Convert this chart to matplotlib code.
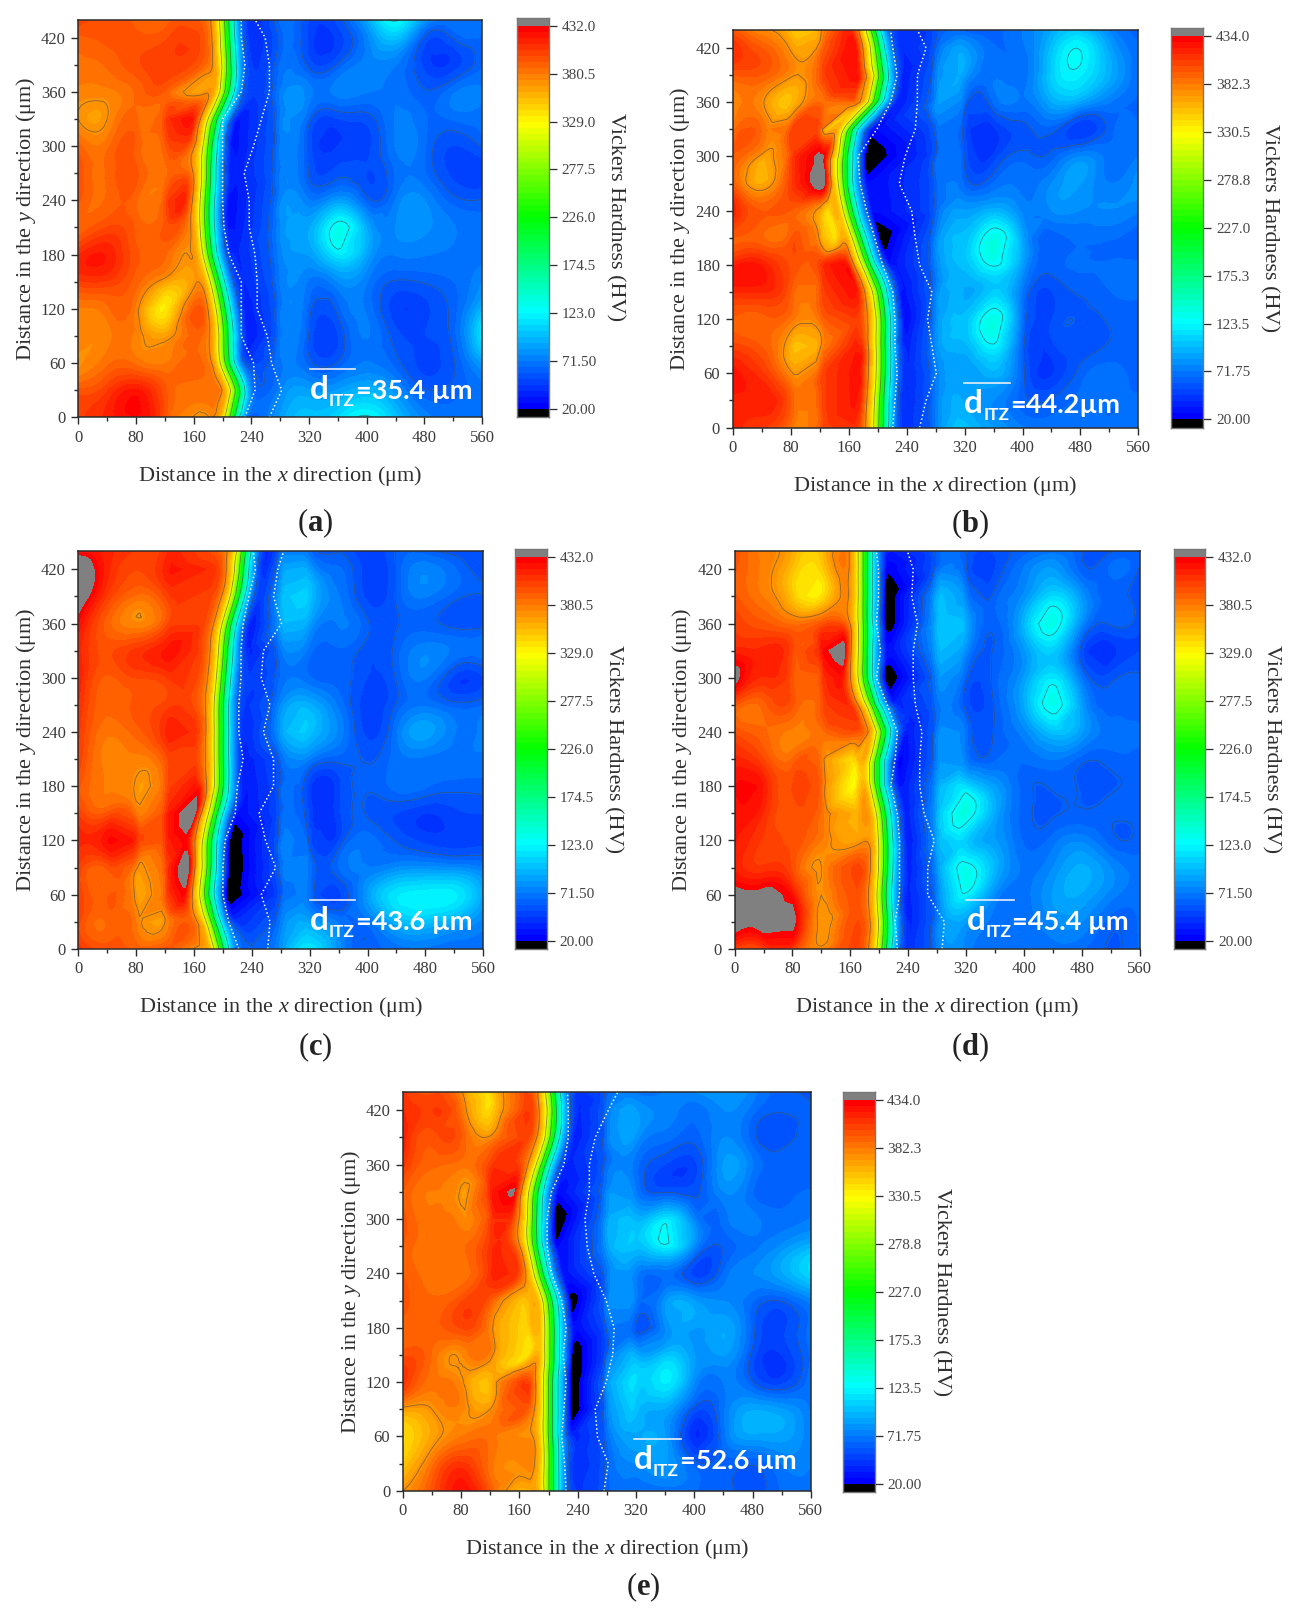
import numpy as np
import matplotlib
matplotlib.use('Agg')
import matplotlib.pyplot as plt
from matplotlib.colors import LinearSegmentedColormap
from matplotlib.ticker import MultipleLocator
from matplotlib.tri import Triangulation, UniformTriRefiner, LinearTriInterpolator

plt.rcParams['font.family'] = ['Liberation Serif', 'DejaVu Serif']
plt.rcParams['mathtext.fontset'] = 'custom'
plt.rcParams['mathtext.rm'] = 'Liberation Serif'
plt.rcParams['mathtext.it'] = 'Liberation Serif:italic'
plt.rcParams['mathtext.bf'] = 'Liberation Serif:bold'

# MEASURED ROWS (um) AND COLUMNS (um)
y_rows = [0, 30, 60, 90, 120, 150, 180, 210, 240, 270, 300, 330, 360, 390, 420, 440]
left_cols = [0, 40, 80, 120]
right_cols = [280, 320, 360, 400, 440, 480, 520, 560]

# PROFILE ACROSS THE INTERFACE, RELATIVE TO THE INTERFACE POSITION
itz_offsets = [-16, -11, 0, 11, 20]
itz_values = [355, 329, 226, 123, 72]
plateau_offset = -30
trough_offset = 30

labels_432 = ['20.00', '71.50', '123.0', '174.5', '226.0', '277.5', '329.0', '380.5', '432.0']
labels_434 = ['20.00', '71.75', '123.5', '175.3', '227.0', '278.8', '330.5', '382.3', '434.0']

# PANEL A
iface_a = [212, 220, 206, 204, 200, 192, 182, 178, 178, 180, 182, 189, 205, 208, 206, 205]
dots1_a = [231, 245, 243, 226, 226, 226, 209, 202, 200, 200, 200, 200, 226, 231, 226, 226]
dots2_a = [265, 282, 268, 262, 248, 248, 245, 237, 237, 230, 243, 254, 265, 265, 259, 245]
trough_a = [60, 60, 52, 35, 38, 42, 40, 32, 30, 36, 32, 35, 50, 48, 45, 45]
left_a = [
    [405, 415, 425, 395, 372],
    [395, 405, 420, 395, 385],
    [372, 385, 385, 380, 385],
    [380, 378, 378, 365, 385],
    [380, 385, 378, 335, 395],
    [405, 405, 390, 365, 370],
    [412, 418, 395, 388, 372],
    [388, 400, 392, 395, 385],
    [395, 388, 388, 395, 412],
    [398, 388, 395, 385, 390],
    [390, 385, 392, 392, 395],
    [372, 372, 388, 400, 418],
    [378, 378, 388, 392, 368],
    [385, 388, 398, 405, 385],
    [392, 395, 395, 398, 392],
    [405, 395, 392, 390, 385],
]
right_a = [
    [85, 100, 110, 125, 100, 75, 66, 68],
    [75, 85, 85, 95, 80, 60, 62, 70],
    [70, 62, 60, 72, 62, 50, 58, 85],
    [70, 58, 52, 72, 55, 52, 62, 115],
    [70, 62, 62, 70, 48, 50, 62, 95],
    [72, 70, 78, 72, 58, 60, 65, 78],
    [75, 85, 115, 88, 72, 72, 70, 68],
    [78, 90, 130, 90, 78, 80, 72, 66],
    [76, 72, 85, 62, 72, 78, 62, 60],
    [72, 58, 56, 52, 66, 66, 50, 46],
    [72, 56, 46, 50, 72, 66, 52, 60],
    [72, 62, 52, 55, 72, 66, 66, 68],
    [72, 74, 74, 72, 70, 60, 70, 72],
    [66, 56, 60, 75, 72, 50, 48, 64],
    [62, 50, 48, 75, 100, 58, 60, 64],
    [66, 52, 55, 90, 125, 85, 70, 68],
]

# PANEL B
iface_b = [204, 205, 207, 207, 207, 202, 187, 174, 162, 155, 155, 162, 196, 204, 199, 193]
dots1_b = [221, 224, 227, 224, 224, 221, 207, 196, 185, 176, 173, 199, 218, 227, 221, 218]
dots2_b = [258, 267, 281, 275, 269, 275, 258, 252, 247, 230, 238, 252, 255, 255, 267, 255]
trough_b = [45, 42, 42, 38, 28, 32, 32, 12, 28, 28, 8, 28, 35, 38, 45, 50]
left_b = [
    [420, 408, 385, 395, 405],
    [418, 420, 395, 395, 418],
    [425, 410, 375, 395, 420],
    [405, 395, 360, 368, 415],
    [395, 392, 385, 385, 400],
    [415, 415, 395, 395, 420],
    [418, 420, 400, 405, 425],
    [395, 390, 395, 370, 345],
    [420, 395, 395, 365, 345],
    [395, 362, 405, 450, 445],
    [395, 368, 400, 438, 435],
    [385, 388, 398, 395, 350],
    [378, 375, 355, 388, 388],
    [395, 395, 375, 395, 420],
    [415, 395, 370, 380, 425],
    [395, 375, 355, 365, 415],
]
right_b = [
    [72, 100, 85, 72, 66, 66, 66, 68],
    [72, 90, 78, 62, 60, 66, 66, 66],
    [72, 85, 95, 62, 45, 62, 68, 62],
    [78, 95, 120, 62, 50, 56, 60, 60],
    [76, 100, 135, 68, 52, 58, 60, 62],
    [74, 90, 105, 70, 52, 60, 65, 66],
    [74, 100, 125, 85, 62, 66, 66, 66],
    [74, 100, 135, 88, 62, 66, 66, 62],
    [62, 85, 95, 76, 78, 78, 78, 72],
    [62, 64, 66, 70, 78, 85, 72, 82],
    [60, 58, 48, 62, 62, 78, 68, 72],
    [62, 55, 44, 56, 62, 46, 62, 66],
    [78, 66, 66, 70, 90, 88, 72, 64],
    [72, 85, 70, 68, 105, 118, 92, 64],
    [62, 85, 66, 70, 100, 122, 88, 66],
    [56, 62, 62, 72, 90, 100, 75, 62],
]

# PANEL C
iface_c = [197, 186, 177, 180, 181, 189, 197, 197, 197, 197, 200, 203, 208, 219, 225, 228]
dots1_c = [222, 208, 200, 200, 203, 217, 220, 228, 222, 222, 225, 225, 228, 236, 245, 242]
dots2_c = [262, 265, 253, 273, 259, 250, 270, 270, 256, 265, 253, 256, 281, 270, 276, 284]
trough_c = [65, 45, 10, 8, 10, 30, 35, 38, 42, 48, 50, 40, 35, 48, 42, 40]
left_c = [
    [410, 398, 390, 395, 365],
    [402, 388, 380, 372, 388],
    [405, 392, 368, 392, 425],
    [405, 395, 375, 395, 450],
    [415, 425, 410, 405, 425],
    [405, 395, 382, 405, 450],
    [395, 380, 370, 392, 415],
    [405, 378, 378, 395, 395],
    [408, 382, 390, 412, 400],
    [412, 388, 395, 402, 390],
    [418, 392, 400, 405, 392],
    [415, 398, 408, 420, 395],
    [425, 390, 375, 395, 395],
    [450, 405, 385, 400, 395],
    [460, 415, 400, 415, 400],
    [420, 415, 405, 410, 385],
]
right_c = [
    [80, 115, 80, 62, 68, 70, 68, 70],
    [72, 88, 70, 68, 95, 100, 90, 75],
    [58, 66, 50, 85, 115, 120, 118, 88],
    [66, 68, 65, 72, 78, 80, 78, 72],
    [68, 56, 52, 68, 58, 50, 48, 50],
    [62, 50, 50, 58, 52, 46, 50, 52],
    [62, 48, 50, 60, 68, 66, 62, 62],
    [65, 72, 62, 58, 68, 70, 70, 70],
    [85, 100, 76, 50, 70, 88, 72, 74],
    [78, 92, 70, 48, 60, 70, 62, 65],
    [66, 66, 62, 52, 60, 72, 50, 52],
    [70, 68, 64, 55, 62, 76, 70, 70],
    [88, 85, 72, 60, 58, 62, 56, 56],
    [92, 100, 72, 50, 60, 72, 62, 58],
    [80, 85, 66, 48, 60, 76, 66, 54],
    [66, 66, 58, 46, 60, 62, 56, 54],
]

# PANEL D
iface_d = [206, 208, 206, 208, 208, 205, 197, 197, 205, 191, 180, 180, 180, 180, 180, 180]
dots1_d = [225, 222, 228, 228, 228, 225, 216, 222, 225, 211, 196, 202, 196, 199, 199, 196]
dots2_d = [287, 290, 267, 267, 276, 262, 256, 256, 259, 250, 247, 247, 253, 245, 247, 239]
trough_d = [45, 40, 40, 38, 35, 38, 32, 25, 35, 40, 8, 28, 8, 8, 22, 35]
left_d = [
    [405, 405, 405, 375, 398],
    [445, 445, 440, 368, 395],
    [440, 440, 422, 372, 392],
    [418, 408, 398, 372, 398],
    [420, 405, 398, 380, 370],
    [420, 412, 395, 385, 365],
    [425, 418, 400, 385, 330],
    [415, 400, 388, 380, 345],
    [398, 388, 378, 385, 392],
    [395, 390, 395, 395, 405],
    [440, 412, 395, 400, 418],
    [415, 415, 400, 420, 445],
    [405, 395, 385, 395, 395],
    [395, 380, 350, 338, 375],
    [395, 378, 352, 345, 380],
    [398, 378, 360, 352, 380],
]
right_d = [
    [72, 75, 68, 66, 68, 66, 58, 66],
    [72, 85, 70, 68, 78, 78, 62, 66],
    [72, 120, 78, 68, 85, 90, 75, 68],
    [80, 130, 95, 70, 78, 92, 78, 68],
    [88, 105, 85, 64, 68, 76, 62, 62],
    [92, 135, 90, 62, 58, 60, 60, 62],
    [85, 110, 85, 62, 60, 58, 58, 62],
    [74, 72, 64, 66, 72, 62, 62, 62],
    [72, 68, 60, 75, 100, 85, 68, 66],
    [68, 56, 60, 90, 130, 85, 62, 62],
    [76, 62, 62, 85, 115, 70, 56, 60],
    [90, 78, 60, 82, 105, 55, 42, 52],
    [95, 90, 62, 95, 132, 78, 60, 54],
    [92, 75, 62, 80, 110, 82, 62, 55],
    [66, 60, 52, 72, 85, 62, 66, 58],
    [62, 60, 54, 62, 68, 60, 58, 60],
]

# PANEL E
iface_e = [203, 203, 202, 202, 202, 204, 204, 201, 189, 181, 180, 182, 192, 204, 207, 205]
dots1_e = [224, 222, 218, 221, 224, 220, 224, 218, 204, 198, 198, 204, 221, 227, 227, 226]
dots2_e = [276, 282, 267, 264, 279, 288, 290, 279, 262, 253, 250, 256, 256, 264, 282, 295]
trough_e = [50, 45, 40, 8, 8, 8, 28, 12, 32, 25, 8, 30, 40, 38, 42, 48]
left_e = [
    [372, 398, 425, 395, 360],
    [350, 385, 410, 385, 378],
    [342, 365, 382, 385, 375],
    [368, 372, 378, 372, 392],
    [412, 385, 375, 358, 405],
    [400, 388, 375, 378, 345],
    [392, 392, 402, 378, 350],
    [398, 390, 400, 395, 355],
    [395, 385, 385, 412, 402],
    [395, 385, 388, 410, 400],
    [398, 385, 378, 405, 405],
    [395, 382, 370, 415, 437],
    [410, 390, 385, 405, 400],
    [420, 398, 395, 375, 400],
    [415, 408, 385, 345, 405],
    [410, 400, 375, 345, 400],
]
right_e = [
    [62, 66, 68, 66, 62, 56, 66, 68],
    [62, 78, 85, 62, 62, 60, 72, 72],
    [66, 90, 85, 40, 68, 88, 88, 72],
    [72, 100, 90, 56, 70, 90, 85, 70],
    [78, 110, 118, 78, 72, 60, 50, 70],
    [62, 92, 100, 85, 85, 56, 46, 66],
    [62, 58, 78, 85, 90, 62, 50, 68],
    [72, 72, 82, 85, 78, 66, 60, 75],
    [70, 74, 68, 50, 66, 78, 90, 110],
    [85, 100, 120, 78, 60, 70, 80, 95],
    [84, 95, 115, 75, 68, 74, 68, 72],
    [76, 72, 58, 56, 78, 66, 62, 66],
    [66, 68, 52, 50, 85, 72, 64, 60],
    [70, 82, 68, 62, 78, 62, 55, 62],
    [68, 85, 76, 68, 78, 68, 60, 60],
    [62, 70, 72, 78, 85, 75, 62, 56],
]

FIG_W, FIG_H = 1292, 1616
SCALE = 1292 / 1254   # layout numbers below were read from the 1254 wide view
INK = '#2b2b2b'
N_BANDS = 64
RAINBOW = LinearSegmentedColormap.from_list(
    'rainbow5', ['#0000ff', '#00ffff', '#00ff00', '#ffff00', '#ff0000'], N=N_BANDS)
RAINBOW.set_under('black')
RAINBOW.set_over('#808080')

fig = plt.figure(figsize=(FIG_W / 100, FIG_H / 100), dpi=100)


def box_to_fig(x0, y0, x1, y1):
    return [x0 * SCALE / FIG_W, 1 - y1 * SCALE / FIG_H,
            (x1 - x0) * SCALE / FIG_W, (y1 - y0) * SCALE / FIG_H]


# BUILDS THE QUAD GRID: FIXED COLUMNS LEFT AND RIGHT, INTERFACE COLUMNS FOLLOW THE BOUNDARY
def build_grid(iface, trough, left, right):
    X, Z = [], []
    for i in range(len(y_rows)):
        b = iface[i]
        X.append(left_cols + [b + plateau_offset] + [b + o for o in itz_offsets]
                 + [b + trough_offset] + right_cols)
        Z.append(left[i] + itz_values + [trough[i]] + right[i])
    Y = np.repeat(np.array(y_rows)[:, None], len(X[0]), axis=1)
    return np.array(X, float), Y.astype(float), np.array(Z, float)


# SPLITS EVERY GRID QUAD IN TWO AND LETS MATPLOTLIB REFINE THE FIELD
# THE CUBIC FIELD OVERSHOOTS AT THE STEEP INTERFACE, SO KEEP IT CLOSE TO THE LINEAR ONE
def refine(X, Y, Z):
    nr, nc = X.shape
    triangles = []
    for r in range(nr - 1):
        for c in range(nc - 1):
            p = r * nc + c
            triangles.append([p, p + 1, p + nc + 1])
            triangles.append([p, p + nc + 1, p + nc])
    tri = Triangulation(X.ravel(), Y.ravel(), triangles)
    refiner = UniformTriRefiner(tri)
    fine_tri, cubic_z = refiner.refine_field(Z.ravel(), subdiv=3)
    _, linear_z = refiner.refine_field(Z.ravel(), triinterpolator=LinearTriInterpolator(tri, Z.ravel()), subdiv=3)
    low = linear_z - np.minimum(9, 0.15 * linear_z)
    high = linear_z + np.clip((440 - linear_z) * 0.3, 0, 9)
    return fine_tri, np.clip(cubic_z, low, high)


def draw_colorbar(box, vmax, labels):
    cax = fig.add_axes(box_to_fig(*box))
    levels = np.linspace(20, vmax, N_BANDS + 1)
    per_px = (vmax - 20) / (372.0)
    low, high = 20 - 8 * per_px, vmax + 8 * per_px
    edges = np.concatenate([[low], levels, [high]])
    vals = np.concatenate([[0], (levels[:-1] + levels[1:]) / 2, [vmax + 100]])[:, None]
    cax.pcolormesh([0, 1], edges, vals, cmap=RAINBOW, vmin=20, vmax=vmax)
    cax.set_ylim(low, high)
    cax.set_xlim(0, 1)
    cax.set_xticks([])
    cax.yaxis.tick_right()
    cax.set_yticks(np.linspace(20, vmax, 9))
    cax.set_yticklabels(labels, fontsize=11, color='#444444')
    cax.tick_params(axis='y', length=6, width=0.9, color=INK, pad=3)
    for s in cax.spines.values():
        s.set_color('#777777')
        s.set_linewidth(1)
    return cax


# DRAWS ONE PANEL
def draw_panel(ax_box, cb_box, vmax, labels, iface, dots1, dots2, trough, left, right,
               itz_text, itz_pos, letter, letter_pos):
    ax = fig.add_axes(box_to_fig(*ax_box))
    X, Y, Z = build_grid(iface, trough, left, right)
    fine_tri, fine_z = refine(X, Y, Z)
    levels = np.linspace(20, vmax, N_BANDS + 1)
    ax.tricontourf(fine_tri, fine_z, levels=levels, cmap=RAINBOW, extend='both')
    ax.tricontour(fine_tri, fine_z, levels=[59, 123, 187, 251, 315, 372], colors='#4a4a4a',
                  linewidths=0.55, alpha=0.7)
    ax.plot(dots1, y_rows, color='white', lw=1.1, ls=(0, (1, 1.6)))
    ax.plot(dots2, y_rows, color='white', lw=1.1, ls=(0, (1, 1.6)))
    ax.set_xlim(0, 560)
    ax.set_ylim(0, 440)
    ax.xaxis.set_major_locator(MultipleLocator(80))
    ax.xaxis.set_minor_locator(MultipleLocator(40))
    ax.yaxis.set_major_locator(MultipleLocator(60))
    ax.yaxis.set_minor_locator(MultipleLocator(30))
    ax.tick_params(which='major', length=5, width=1, color=INK, labelsize=12,
                   labelcolor='#3a3a3a', pad=4)
    ax.tick_params(which='minor', length=3, width=1, color=INK)
    for s in ax.spines.values():
        s.set_color(INK)
        s.set_linewidth(1.1)
    ax.set_xlabel(r'Distance in the $\mathit{x}$ direction (μm)', fontsize=16,
                  color='#2f2f2f', labelpad=13)
    ax.set_ylabel(r'Distance in the $\mathit{y}$ direction (μm)', fontsize=16,
                  color='#2f2f2f', labelpad=2)

    draw_colorbar(cb_box, vmax, labels)
    mid = (cb_box[1] + cb_box[3]) / 2
    fig.text((cb_box[2] + 64) * SCALE / FIG_W, 1 - mid * SCALE / FIG_H, 'Vickers Hardness (HV)',
             rotation=-90, ha='center', va='center', fontsize=16, color='#2f2f2f')

    # d_ITZ LABEL, CHAINED TEXT PIECES
    px, py, bar = itz_pos
    x0 = px * SCALE / FIG_W
    y0 = 1 - py * SCALE / FIG_H
    sans = dict(family='Lato', weight='bold', color='white')
    t1 = fig.text(x0, y0, 'd', fontsize=24, va='baseline', **sans)
    t2 = ax.annotate('ITZ', xy=(1, 0), xycoords=t1, xytext=(0, -2), textcoords='offset pixels',
                     fontsize=12.5, va='baseline', **sans)
    ax.annotate(itz_text, xy=(1, 0), xycoords=t2, xytext=(1, 10), textcoords='offset pixels',
                fontsize=19.5, va='baseline', **sans)
    fig.add_artist(plt.Line2D([x0, x0 + bar * SCALE / FIG_W],
                              [y0 + 30 / FIG_H, y0 + 30 / FIG_H], color='#e8eef8', lw=1.2))

    fig.text(letter_pos[0] * SCALE / FIG_W, 1 - letter_pos[1] * SCALE / FIG_H,
             r'($\mathbf{%s}$)' % letter, ha='center', va='center', fontsize=22, color='#222222')


draw_panel((76, 19, 468, 405), (502, 17, 533, 405), 432, labels_432, iface_a, dots1_a, dots2_a,
           trough_a, left_a, right_a, '=35.4 µm', (301, 387, 44), 'a', (306, 508))
draw_panel((711, 29, 1105, 415), (1137, 27, 1168, 415), 434, labels_434, iface_b, dots1_b, dots2_b,
           trough_b, left_b, right_b, '=44.2µm', (936, 401, 44), 'b', (941, 509))
draw_panel((76, 535, 469, 921), (500, 533, 531, 921), 432, labels_432, iface_c, dots1_c, dots2_c,
           trough_c, left_c, right_c, '=43.6 µm', (301, 903, 44), 'c', (306, 1016))
draw_panel((713, 535, 1106, 921), (1139, 533, 1170, 921), 432, labels_432, iface_d, dots1_d, dots2_d,
           trough_d, left_d, right_d, '=45.4 µm', (938, 903, 46), 'd', (941, 1016))
draw_panel((391, 1060, 787, 1447), (818, 1060, 849, 1448), 434, labels_434, iface_e, dots1_e, dots2_e,
           trough_e, left_e, right_e, '=52.6 µm', (615, 1426, 46), 'e', (624, 1541))

fig.savefig('out.png', dpi=100)
